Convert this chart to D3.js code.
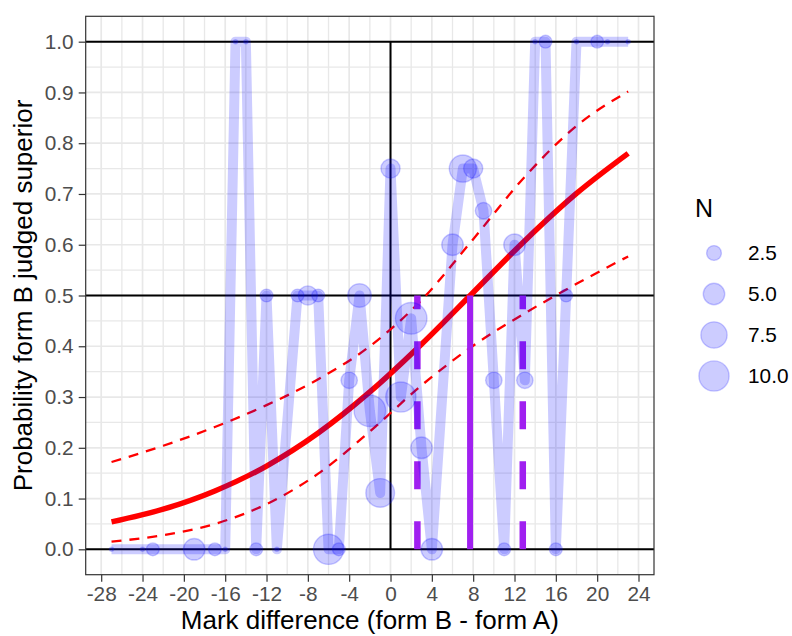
<!DOCTYPE html>
<html>
<head>
<meta charset="utf-8">
<script src="https://cdn.jsdelivr.net/npm/d3@7"></script>
<style>
  html,body{margin:0;padding:0;background:#fff;}
  svg{display:block;font-family:"Liberation Sans",Arial,sans-serif;}
</style>
</head>
<body>
<div id="chart"></div>
<script>
// observed proportions by mark difference
const diffs  = [-27,-24,-23,-19,-17,-16,-15,-14,-13,-12,-11,-9,-8,-7,-6,-5,-4,-3,-2,-1,0,1,2,3,4,6,7,8,9,10,11,12,13,14,15,16,17,18,20,21,23];
const props  = [0,0,0,0,0,0,1,1,0,0.5,0,0.5,0.5,0.5,0,0,0.333,0.5,0.273,0.111,0.75,0.3,0.455,0.2,0,0.6,0.75,0.75,0.667,0.333,0,0.6,0.333,1,1,0,0.5,1,1,1,1];
const counts = [1,1,2,5,2,1,1,1,2,2,1,2,4,2,10,2,3,6,11,9,4,10,11,5,5,5,8,4,3,3,2,5,3,1,2,2,2,1,2,1,1];

// fitted logistic curve + confidence band
const fitX  = [-27,-22,-17,-12,-7,-2,3,8,13,18,23];
const fitP  = [0.054,0.079,0.115,0.164,0.229,0.310,0.404,0.506,0.608,0.701,0.780];
const fitLo = [0.015,0.028,0.050,0.089,0.149,0.232,0.323,0.401,0.465,0.523,0.577];
const fitHi = [0.172,0.204,0.241,0.284,0.335,0.400,0.491,0.611,0.734,0.834,0.902];

// 50% point and its interval
const midX = [7.7];
const ciX  = [2.6, 12.8];

const xTicks = [-28,-24,-20,-16,-12,-8,-4,0,4,8,12,16,20,24];
const yTicks = [0,0.1,0.2,0.3,0.4,0.5,0.6,0.7,0.8,0.9,1.0];
const sizeBreaks = [2.5,5,7.5,10];

const W=792, H=636;
const P={l:85.7, r:654, t:16.3, b:574.7};

const x=d3.scaleLinear().domain([-29.5,25.5]).range([P.l,P.r]);
const y=d3.scaleLinear().domain([-0.05,1.05]).range([P.b,P.t]);
const nMin=d3.min(counts), nMax=d3.max(counts);
// ggplot area palette: size = rescale(sqrt(rescaled N)) onto [1,6]
const sz=d3.scaleLinear().domain([0,1]).range([1,6]);
const rad = n => 2.75*sz(Math.sqrt((n-nMin)/(nMax-nMin)));

const svg=d3.select('#chart').append('svg').attr('width',W).attr('height',H);
svg.append('rect').attr('width',W).attr('height',H).attr('fill','#fff');

// grid
const grid=svg.append('g');
const xMinor=d3.range(-30,26,2).filter(v=>v>-29.5&&v<25.5);
const yMinor=d3.range(0,1.01,0.05);
grid.selectAll('.vx').data(xMinor).join('line')
  .attr('x1',d=>x(d)).attr('x2',d=>x(d)).attr('y1',P.t).attr('y2',P.b)
  .attr('stroke','#e8e8e8').attr('stroke-width',d=>d%4===0?1.7:1.3);
grid.selectAll('.hy').data(yMinor).join('line')
  .attr('y1',d=>y(d)).attr('y2',d=>y(d)).attr('x1',P.l).attr('x2',P.r)
  .attr('stroke','#e8e8e8').attr('stroke-width',(d,i)=>i%2===0?1.7:1.3);

// reference lines
const ref=svg.append('g').attr('stroke','#000').attr('stroke-width',2);
[0,0.5,1].forEach(v=>ref.append('line').attr('x1',P.l).attr('x2',P.r).attr('y1',y(v)).attr('y2',y(v)));
ref.append('line').attr('x1',x(0)).attr('x2',x(0)).attr('y1',y(0)).attr('y2',y(1));

// fitted curve
const fit=fitX.map((v,i)=>({x:v,p:fitP[i],lo:fitLo[i],hi:fitHi[i]}));
const ln=k=>d3.line().x(d=>x(d.x)).y(d=>y(d[k])).curve(d3.curveMonotoneX);
svg.append('path').attr('d',ln('lo')(fit)).attr('fill','none').attr('stroke','#ff0000')
  .attr('stroke-width',2.3).attr('stroke-dasharray','10,8');
svg.append('path').attr('d',ln('hi')(fit)).attr('fill','none').attr('stroke','#ff0000')
  .attr('stroke-width',2.3).attr('stroke-dasharray','10,8');
svg.append('path').attr('d',ln('p')(fit)).attr('fill','none').attr('stroke','#ff0000')
  .attr('stroke-width',5.5);

// purple markers
svg.selectAll('.mid').data(midX).join('line')
  .attr('x1',d=>x(d)).attr('x2',d=>x(d)).attr('y1',y(0)).attr('y2',y(0.5))
  .attr('stroke','#a020f0').attr('stroke-width',6);
svg.selectAll('.ci').data(ciX).join('line')
  .attr('x1',d=>x(d)).attr('x2',d=>x(d)).attr('y1',y(0)).attr('y2',y(0.5))
  .attr('stroke','#a020f0').attr('stroke-width',6.5).attr('stroke-dasharray','28,32');

// observed data
const obs=diffs.map((v,i)=>({x:v,p:props[i],n:counts[i]}));
svg.append('path').attr('d',d3.line().x(d=>x(d.x)).y(d=>y(d.p))(obs))
  .attr('fill','none').attr('stroke','#0000ff').attr('stroke-opacity',0.2)
  .attr('stroke-width',10).attr('stroke-linejoin','round');
svg.append('g').selectAll('circle').data(obs).join('circle')
  .attr('cx',d=>x(d.x)).attr('cy',d=>y(d.p)).attr('r',d=>rad(d.n)-0.7)
  .attr('fill','#0000ff').attr('fill-opacity',0.2)
  .attr('stroke','#0000ff').attr('stroke-opacity',0.2).attr('stroke-width',1.4);

// panel border
svg.append('rect').attr('x',P.l).attr('y',P.t).attr('width',P.r-P.l).attr('height',P.b-P.t)
  .attr('fill','none').attr('stroke','#333').attr('stroke-width',1.2);

// axes
const xa=svg.append('g').attr('transform',`translate(0,${P.b})`)
  .call(d3.axisBottom(x).tickValues(xTicks).tickSize(7).tickPadding(5).tickFormat(d3.format('d')));
const ya=svg.append('g').attr('transform',`translate(${P.l},0)`)
  .call(d3.axisLeft(y).tickValues(yTicks).tickSize(7).tickPadding(5).tickFormat(d3.format('.1f')));
[xa,ya].forEach(a=>{
  a.select('.domain').remove();
  a.selectAll('.tick line').attr('stroke','#333').attr('stroke-width',1.2);
  a.selectAll('.tick text').attr('fill','#4d4d4d').style('font-size','20.8px')
    .style('font-family','"Liberation Sans",Arial,sans-serif');
});
xa.selectAll('.tick text').text(d=>d<0?'-'+Math.abs(d):d);

svg.append('text').attr('x',(P.l+P.r)/2).attr('y',629).attr('text-anchor','middle')
  .style('font-size','26px').text('Mark difference (form B - form A)');
svg.append('text').attr('transform',`translate(32,${(P.t+P.b)/2}) rotate(-90)`)
  .attr('text-anchor','middle').style('font-size','26px').text('Probability form B judged superior');

// legend
const lg=svg.append('g');
lg.append('text').attr('x',695).attr('y',217).style('font-size','25px').text('N');
const keyY=(d,i)=>253+i*41;
lg.selectAll('circle').data(sizeBreaks).join('circle')
  .attr('cx',714).attr('cy',keyY).attr('r',d=>rad(d)-0.7)
  .attr('fill','#0000ff').attr('fill-opacity',0.2)
  .attr('stroke','#0000ff').attr('stroke-opacity',0.2).attr('stroke-width',1.4);
lg.selectAll('.lab').data(sizeBreaks).join('text')
  .attr('x',748).attr('y',keyY).attr('dy','0.36em').style('font-size','20.8px')
  .text(d=>d.toFixed(1));
</script>
</body>
</html>
